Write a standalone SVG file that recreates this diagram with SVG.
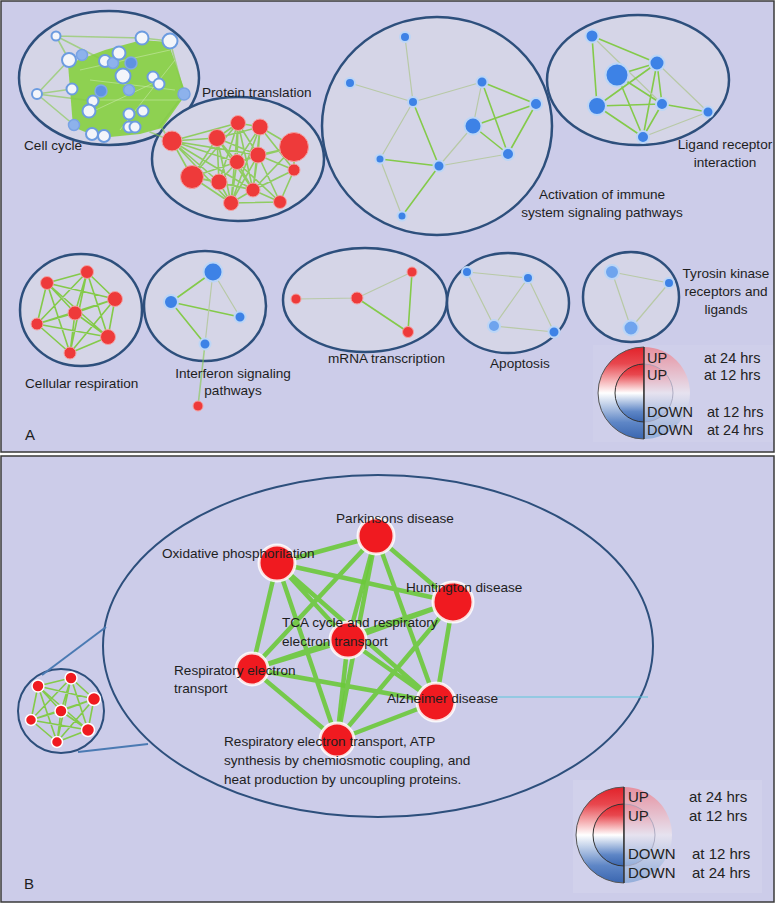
<svg xmlns="http://www.w3.org/2000/svg" width="776" height="904" viewBox="0 0 776 904">
<defs>
<linearGradient id="gL" x1="0" y1="0" x2="0" y2="1">
<stop offset="0" stop-color="#E2222A"/><stop offset="0.18" stop-color="#E8474E"/><stop offset="0.5" stop-color="#FFFFFF"/><stop offset="0.82" stop-color="#5E86C6"/><stop offset="1" stop-color="#3A66B0"/>
</linearGradient>
<linearGradient id="gR" x1="0" y1="0" x2="0" y2="1">
<stop offset="0" stop-color="#E6909F"/><stop offset="0.5" stop-color="#E6E2EF"/><stop offset="1" stop-color="#93AEDA"/>
</linearGradient>
<style>
.bg{fill:#CCCCE9;stroke:#3A3A3A;stroke-width:1.5}
.cl{fill:#D5D5E7;stroke:#2D4F7C;stroke-width:2.5}
.clb{fill:none;stroke:#2D4F7C;stroke-width:2}
.lb{font-family:"Liberation Sans",Arial,sans-serif;font-size:13.6px;fill:#1E1E1E}
.lg{font-family:"Liberation Sans",Arial,sans-serif;font-size:14.5px;fill:#222}
.lg2{font-family:"Liberation Sans",Arial,sans-serif;font-size:15px;fill:#222}
.pl{font-family:"Liberation Sans",Arial,sans-serif;font-size:15px;fill:#1E1E1E}
.cw{fill:#F3F5FA;stroke:#6C9CE0;stroke-width:2}
.cb{fill:#8DB2EC;stroke:#79A3E4;stroke-width:1.5}
.cd{fill:#5F92E2;stroke:#7FA8E8;stroke-width:1.5}
.rn{fill:#EE3A3A;stroke:#F3A1A1;stroke-width:1}
.bn{fill:#3D82E6;stroke:#BCD6F6;stroke-width:2}
.ln{fill:#6EA4EE;stroke:#BCD6F6;stroke-width:2}
.bbn{fill:#F01A20;stroke:#FFFFFF;stroke-width:3;stroke-opacity:0.85}
.sn{fill:#F01A20;stroke:#FFFFFF;stroke-width:1.5}
.e{stroke:#84CA4A;fill:none;stroke-width:1.6;stroke-linecap:round}
.ef{stroke:#B8C9A6;fill:none;stroke-width:1.2}
.eb{stroke:#6BC93A;fill:none;stroke-width:4.5;stroke-opacity:0.9}
</style>
</defs>
<rect width="776" height="904" fill="#FFFFFF"/>
<rect class="bg" x="1" y="1" width="773" height="451"/>
<rect class="bg" x="1" y="456" width="773" height="446"/>

<g id="clusters">
<ellipse class="cl" cx="109" cy="78" rx="90" ry="67"/>
<ellipse class="cl" cx="238" cy="159" rx="86" ry="62"/>
<ellipse class="cl" cx="437" cy="126" rx="115" ry="109"/>
<ellipse class="cl" cx="638" cy="80" rx="91" ry="65"/>
<ellipse class="cl" cx="81" cy="310" rx="61" ry="56"/>
<ellipse class="cl" cx="205" cy="306" rx="61" ry="55"/>
<ellipse class="cl" cx="365" cy="300" rx="82" ry="52"/>
<ellipse class="cl" cx="508" cy="303" rx="61" ry="50"/>
<ellipse class="cl" cx="631" cy="297" rx="48" ry="45"/>
<ellipse class="clb" cx="378" cy="646" rx="275" ry="171"/>
<ellipse class="clb" cx="61" cy="711" rx="43" ry="42" stroke-width="2.5"/>
<line x1="42" y1="675" x2="106" y2="627" stroke="#4B7AB3" stroke-width="2"/>
<line x1="78" y1="752" x2="148" y2="744" stroke="#4B7AB3" stroke-width="2"/>
</g>

<g id="connectors">
<polygon points="68,64 105,50 142,40 168,42 186,94 162,128 140,134 100,138 73,127" fill="#86D040" fill-opacity="0.9"/>
<path class="e" stroke-opacity="0.6" d="M56,36L69,60M56,36L142,38M56,36L105,61M37,94L69,60M37,94L72,89M37,94L74,125M37,94L93,101M170,41L184,94M184,94L159,127M142,38L170,41M162,128L175,150M150,132L172,141"/>
<path d="M80,70L170,50M90,80L175,90M100,100L180,100M85,115L160,80M120,130L175,60" stroke="#C8E8A8" stroke-width="1" fill="none" stroke-opacity="0.6"/>
<path class="e" stroke-opacity="0.85" d="M172,141L217,138M172,141L238,123M172,141L237,162M172,141L192,177M172,141L219,182M172,141L231,203M172,141L258,155M172,141L253,190M217,138L238,123M217,138L260,127M217,138L237,162M217,138L258,155M217,138L192,177M217,138L219,182M217,138L253,190M217,138L231,203M238,123L260,127M238,123L237,162M238,123L258,155M238,123L219,182M238,123L231,203M238,123L253,190M260,127L294,147M260,127L237,162M260,127L258,155M260,127L294,170M260,127L253,190M260,127L231,203M294,147L258,155M294,147L294,170M294,147L237,162M294,147L253,190M237,162L258,155M237,162L192,177M237,162L219,182M237,162L253,190M237,162L231,203M237,162L280,202M258,155L294,170M258,155L253,190M258,155L231,203M258,155L280,202M192,177L219,182M192,177L231,203M192,177L253,190M219,182L253,190M219,182L231,203M294,170L280,202M294,170L253,190M253,190L231,203M253,190L280,202M231,203L280,202M238,123L192,177"/>
<path class="ef" d="M405,37L413,102M350,83L413,102M413,102L482,82M413,102L380,159M380,159L402,216M439,166L473,126M439,166L508,154M482,82L473,126"/>
<path class="e" d="M413,102L439,166M482,82L536,104M380,159L439,166M439,166L402,216M482,82L508,154"/>
<path class="e" stroke-width="2.6" d="M473,126L536,104M536,104L508,154M473,126L508,154"/>
<path class="e" d="M592,36L657,63M592,36L597,106M617,75L657,63M597,106L662,104M597,106L643,137M657,63L662,104M657,63L643,137M662,104L708,112M662,104L643,137M617,75L662,104M617,75L643,137"/>
<path class="ef" d="M592,36L662,104M657,63L708,112M643,137L708,112"/>
<path class="e" stroke-width="2.6" d="M597,106L657,63"/>
<path class="e" stroke-width="2" d="M47,283L87,272M47,283L115,299M47,283L75,313M47,283L37,324M47,283L108,337M47,283L70,353M87,272L115,299M87,272L75,313M87,272L37,324M87,272L108,337M87,272L70,353M115,299L75,313M115,299L37,324M115,299L108,337M115,299L70,353M75,313L37,324M75,313L108,337M75,313L70,353M37,324L108,337M37,324L70,353M108,337L70,353"/>
<path class="e" d="M213,272L171,302M171,302L240,317M171,302L205,344"/>
<path class="ef" d="M213,272L205,344M213,272L240,317"/>
<path class="e" stroke-opacity="0.6" d="M205,344L198,406"/>
<path class="ef" d="M296,299L357,298M357,298L412,272"/>
<path class="e" d="M357,298L408,332"/>
<path class="e" stroke-width="2.2" d="M412,272L408,332"/>
<path class="ef" stroke="#B4C6A0" d="M467,272L528,278M467,272L494,326M528,278L494,326M528,278L554,332M494,326L554,332"/>
<path class="ef" stroke="#B4C6A0" d="M612,272L669,283M612,272L631,328M669,283L631,328"/>
<path class="eb" d="M376,536L277,563M376,536L453,602M376,536L252,669M376,536L436,702M376,536L337,740M277,563L453,602M277,563L348,640M277,563L252,669M277,563L436,702M277,563L337,740M453,602L348,640M453,602L252,669M453,602L436,702M453,602L337,740M348,640L252,669M348,640L436,702M252,669L436,702M252,669L337,740M436,702L337,740"/>
<path class="eb" stroke-width="5.5" d="M376,536L348,640"/>
<path class="eb" stroke-width="7.5" d="M348,640L337,740"/>
<path class="e" stroke="#6BC93A" stroke-width="1.5" d="M38,686L71,678M38,686L94,699M38,686L61,711M38,686L31,720M38,686L88,730M38,686L57,742M71,678L94,699M71,678L61,711M71,678L31,720M71,678L88,730M71,678L57,742M94,699L61,711M94,699L31,720M94,699L88,730M94,699L57,742M61,711L31,720M61,711L88,730M61,711L57,742M31,720L88,730M31,720L57,742M88,730L57,742"/>
<line x1="497" y1="697" x2="648" y2="697" stroke="#5BC6DC" stroke-width="1.2"/>
</g>

<g id="cellcycle">
<g id="cc1"><circle class="cw" cx="56" cy="36" r="4.5"/></g>
<g id="cc2"><circle class="cw" cx="142" cy="38" r="6.5"/></g>
<g id="cc3"><circle class="cw" cx="170" cy="41" r="7.5"/></g>
<g id="cc4"><circle class="cw" cx="69" cy="60" r="7"/></g>
<g id="cc5"><circle class="cb" cx="82" cy="55" r="5.5"/></g>
<g id="cc6"><circle class="cw" cx="105" cy="61" r="6"/></g>
<g id="cc7"><circle class="cb" cx="113" cy="63" r="5.5"/></g>
<g id="cc8"><circle class="cw" cx="119" cy="53" r="6.5"/></g>
<g id="cc9"><circle class="cd" cx="131" cy="63" r="6"/></g>
<g id="cc10"><circle class="cw" cx="123" cy="76" r="7.5"/></g>
<g id="cc11"><circle class="cw" cx="153" cy="77" r="5.5"/></g>
<g id="cc12"><circle class="cw" cx="159" cy="84" r="5.5"/></g>
<g id="cc13"><circle class="cw" cx="37" cy="94" r="5"/></g>
<g id="cc14"><circle class="cw" cx="72" cy="89" r="5.5"/></g>
<g id="cc15"><circle class="cd" cx="101" cy="91" r="6"/></g>
<g id="cc16"><circle class="cb" cx="129" cy="90" r="5.5"/></g>
<g id="cc17"><circle class="cb" cx="184" cy="94" r="6"/></g>
<g id="cc18"><circle class="cw" cx="93" cy="101" r="5.5"/></g>
<g id="cc19"><circle class="cw" cx="89" cy="111" r="6.5"/></g>
<g id="cc20"><circle class="cw" cx="129" cy="114" r="5.5"/></g>
<g id="cc21"><circle class="cw" cx="143" cy="111" r="5.5"/></g>
<g id="cc22"><circle class="cb" cx="74" cy="125" r="5.5"/></g>
<g id="cc23"><circle class="cw" cx="129" cy="127" r="5.5"/></g>
<g id="cc24"><circle class="cw" cx="135" cy="127" r="5.5"/></g>
<g id="cc25"><circle class="cw" cx="92" cy="134" r="6"/></g>
<g id="cc26"><circle class="cw" cx="104" cy="136" r="6"/></g>
<text class="lb" x="24" y="150">Cell cycle</text>
</g>

<g id="proteintranslation">
<g id="pt1"><circle class="rn" cx="172" cy="141" r="10"/></g>
<g id="pt2"><circle class="rn" cx="217" cy="138" r="8.5"/></g>
<g id="pt3"><circle class="rn" cx="238" cy="123" r="7.5"/></g>
<g id="pt4"><circle class="rn" cx="260" cy="127" r="8"/></g>
<g id="pt5"><circle class="rn" cx="294" cy="147" r="14.5"/></g>
<g id="pt6"><circle class="rn" cx="237" cy="162" r="7.5"/></g>
<g id="pt7"><circle class="rn" cx="258" cy="155" r="8"/></g>
<g id="pt8"><circle class="rn" cx="192" cy="177" r="11.5"/></g>
<g id="pt9"><circle class="rn" cx="219" cy="182" r="8"/></g>
<g id="pt10"><circle class="rn" cx="294" cy="170" r="6"/></g>
<g id="pt11"><circle class="rn" cx="253" cy="190" r="7"/></g>
<g id="pt12"><circle class="rn" cx="231" cy="203" r="7.5"/></g>
<g id="pt13"><circle class="rn" cx="280" cy="202" r="6.5"/></g>
<text class="lb" x="202" y="97">Protein translation</text>
</g>

<g id="immune">
<g id="im1"><circle class="bn" cx="405" cy="37" r="5"/></g>
<g id="im2"><circle class="bn" cx="350" cy="83" r="5"/></g>
<g id="im3"><circle class="bn" cx="413" cy="102" r="5"/></g>
<g id="im4"><circle class="bn" cx="482" cy="82" r="5.5"/></g>
<g id="im5"><circle class="bn" cx="536" cy="104" r="6"/></g>
<g id="im6"><circle class="bn" cx="473" cy="126" r="8.5"/></g>
<g id="im7"><circle class="bn" cx="508" cy="154" r="6"/></g>
<g id="im8"><circle class="bn" cx="380" cy="159" r="4.5"/></g>
<g id="im9"><circle class="bn" cx="439" cy="166" r="5.5"/></g>
<g id="im10"><circle class="bn" cx="402" cy="216" r="4.5"/></g>
<text class="lb" x="602" y="199" text-anchor="middle">Activation of immune</text>
<text class="lb" x="602" y="217" text-anchor="middle">system signaling pathways</text>
</g>

<g id="ligand">
<g id="lr1"><circle class="bn" cx="592" cy="36" r="6.5"/></g>
<g id="lr2"><circle class="bn" cx="617" cy="75" r="11.5" stroke-width="3"/></g>
<g id="lr3"><circle class="bn" cx="657" cy="63" r="7.5" stroke-width="3"/></g>
<g id="lr4"><circle class="bn" cx="597" cy="106" r="9"/></g>
<g id="lr5"><circle class="bn" cx="662" cy="104" r="6"/></g>
<g id="lr6"><circle class="bn" cx="708" cy="112" r="5.5"/></g>
<g id="lr7"><circle class="bn" cx="643" cy="137" r="6"/></g>
<text class="lb" x="725" y="149" text-anchor="middle">Ligand receptor</text>
<text class="lb" x="725" y="167" text-anchor="middle">interaction</text>
</g>

<g id="cellresp">
<g id="cr1"><circle class="rn" cx="47" cy="283" r="6.5"/></g>
<g id="cr2"><circle class="rn" cx="87" cy="272" r="6.5"/></g>
<g id="cr3"><circle class="rn" cx="115" cy="299" r="7.5"/></g>
<g id="cr4"><circle class="rn" cx="75" cy="313" r="7"/></g>
<g id="cr5"><circle class="rn" cx="37" cy="324" r="6"/></g>
<g id="cr6"><circle class="rn" cx="108" cy="337" r="7.5"/></g>
<g id="cr7"><circle class="rn" cx="70" cy="353" r="6"/></g>
<text class="lb" x="25" y="388">Cellular respiration</text>
</g>

<g id="interferon">
<g id="if1"><circle class="bn" cx="213" cy="272" r="9.5"/></g>
<g id="if2"><circle class="bn" cx="171" cy="302" r="7"/></g>
<g id="if3"><circle class="bn" cx="240" cy="317" r="5.5"/></g>
<g id="if4"><circle class="bn" cx="205" cy="344" r="5.5"/></g>
<g id="if5"><circle class="rn" cx="198" cy="406" r="5" fill="#EE1C1C"/></g>
<text class="lb" x="233" y="378" text-anchor="middle">Interferon signaling</text>
<text class="lb" x="233" y="395" text-anchor="middle">pathways</text>
</g>

<g id="mrna">
<g id="mr1"><circle class="rn" cx="296" cy="299" r="5"/></g>
<g id="mr2"><circle class="rn" cx="357" cy="298" r="6"/></g>
<g id="mr3"><circle class="rn" cx="412" cy="272" r="5"/></g>
<g id="mr4"><circle class="rn" cx="408" cy="332" r="5.5"/></g>
<text class="lb" x="328" y="363">mRNA transcription</text>
</g>

<g id="apoptosis">
<g id="ap1"><circle class="bn" cx="467" cy="272" r="5"/></g>
<g id="ap2"><circle class="bn" cx="528" cy="278" r="5"/></g>
<g id="ap3"><circle class="ln" cx="494" cy="326" r="6"/></g>
<g id="ap4"><circle class="bn" cx="554" cy="332" r="5.5"/></g>
<text class="lb" x="490" y="368">Apoptosis</text>
</g>

<g id="tyrosin">
<g id="ty1"><circle class="ln" cx="612" cy="272" r="7"/></g>
<g id="ty2"><circle class="bn" cx="669" cy="283" r="5"/></g>
<g id="ty3"><circle class="ln" cx="631" cy="328" r="7.5"/></g>
<text class="lb" x="726" y="278" text-anchor="middle">Tyrosin kinase</text>
<text class="lb" x="726" y="296" text-anchor="middle">receptors and</text>
<text class="lb" x="726" y="314" text-anchor="middle">ligands</text>
</g>

<g id="legendA">
<rect x="593" y="345" width="180" height="97" fill="#CFCFEA"/>
<path d="M644,347 A46,46 0 0 0 644,439 Z" fill="url(#gL)" stroke="#555" stroke-width="1"/>
<path d="M644,347 A46,46 0 0 1 644,439 Z" fill="url(#gR)"/>
<path d="M644,364 A29,29 0 0 0 644,422 Z" fill="url(#gL)" stroke="#333" stroke-width="1"/>
<path d="M644,364 A29,29 0 0 1 644,422" fill="url(#gR)" stroke="#A0A0B8" stroke-width="0.8"/>
<line x1="644" y1="347" x2="644" y2="439" stroke="#333" stroke-width="1.5"/>
<text class="lg" x="647" y="363">UP</text>
<text class="lg" x="647" y="380">UP</text>
<text class="lg" x="647" y="417">DOWN</text>
<text class="lg" x="647" y="435">DOWN</text>
<text class="lg" x="704" y="363">at 24 hrs</text>
<text class="lg" x="704" y="380">at 12 hrs</text>
<text class="lg" x="707" y="417">at 12 hrs</text>
<text class="lg" x="707" y="435">at 24 hrs</text>
</g>
<text class="pl" x="25" y="440">A</text>

<g id="smallcluster">
<g id="s1"><circle class="sn" cx="38" cy="686" r="6"/></g>
<g id="s2"><circle class="sn" cx="71" cy="678" r="6"/></g>
<g id="s3"><circle class="sn" cx="94" cy="699" r="6.5"/></g>
<g id="s4"><circle class="sn" cx="61" cy="711" r="6"/></g>
<g id="s5"><circle class="sn" cx="31" cy="720" r="5.5"/></g>
<g id="s6"><circle class="sn" cx="88" cy="730" r="6.5"/></g>
<g id="s7"><circle class="sn" cx="57" cy="742" r="5.5"/></g>
</g>

<g id="parkinsons"><circle class="bbn" cx="376" cy="536" r="18"/><text class="lb" x="336" y="523">Parkinsons disease</text></g>
<g id="oxidative"><circle class="bbn" cx="277" cy="563" r="18"/><text class="lb" x="162" y="558">Oxidative phosphorilation</text></g>
<g id="huntington"><circle class="bbn" cx="453" cy="602" r="20"/><text class="lb" x="406" y="592">Huntington disease</text></g>
<g id="tca"><circle class="bbn" cx="348" cy="640" r="18"/><text class="lb" x="282" y="627">TCA cycle and respiratory</text><text class="lb" x="282" y="646">electron transport</text></g>
<g id="respet"><circle class="bbn" cx="252" cy="669" r="16"/><text class="lb" x="174" y="675">Respiratory electron</text><text class="lb" x="174" y="693">transport</text></g>
<g id="alzheimer"><circle class="bbn" cx="436" cy="702" r="19"/><text class="lb" x="387" y="703">Alzheimer disease</text></g>
<g id="atp"><circle class="bbn" cx="337" cy="740" r="17"/><text class="lb" x="224" y="746">Respiratory electron transport, ATP</text><text class="lb" x="224" y="765">synthesis by chemiosmotic coupling, and</text><text class="lb" x="224" y="784">heat production by uncoupling proteins.</text></g>

<g id="legendB">
<rect x="573" y="780" width="189" height="113" fill="#D1D1EB"/>
<path d="M624,787 A48,48 0 0 0 624,883 Z" fill="url(#gL)" stroke="#555" stroke-width="1"/>
<path d="M624,787 A48,48 0 0 1 624,883 Z" fill="url(#gR)"/>
<path d="M624,804 A31,31 0 0 0 624,866 Z" fill="url(#gL)" stroke="#333" stroke-width="1"/>
<path d="M624,804 A31,31 0 0 1 624,866" fill="url(#gR)" stroke="#A0A0B8" stroke-width="0.8"/>
<line x1="624" y1="787" x2="624" y2="883" stroke="#333" stroke-width="1.5"/>
<text class="lg2" x="628" y="802">UP</text>
<text class="lg2" x="628" y="821">UP</text>
<text class="lg2" x="628" y="859">DOWN</text>
<text class="lg2" x="628" y="878">DOWN</text>
<text class="lg2" x="689" y="802">at 24 hrs</text>
<text class="lg2" x="689" y="821">at 12 hrs</text>
<text class="lg2" x="692" y="859">at 12 hrs</text>
<text class="lg2" x="692" y="878">at 24 hrs</text>
</g>
<text class="pl" x="24" y="889">B</text>
</svg>
